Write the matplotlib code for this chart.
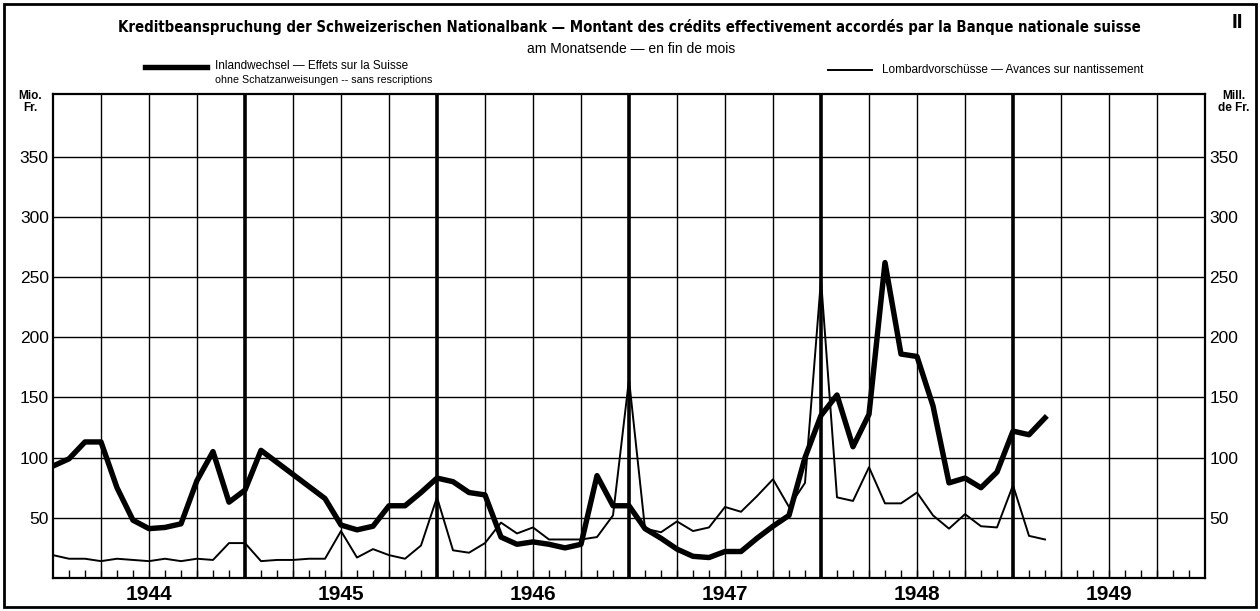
import matplotlib
matplotlib.use('Agg')
import matplotlib.pyplot as plt
from matplotlib import font_manager
from matplotlib.patches import Rectangle
from matplotlib.lines import Line2D

# ---------------- data ----------------
# month-end index: 0 = end Dec 1943, 12 = end Dec 1944, ...
months = list(range(63))
inland = [93, 99, 113, 113, 75, 48, 41, 42, 45, 81, 105, 63, 73,
          106, 96, 86, 76, 66, 44, 40, 43, 60, 60, 71, 83,
          80, 71, 69, 34, 28, 30, 28, 25, 28, 85, 60, 60,
          41, 33, 24, 18, 17, 22, 22, 33, 43, 52, 100, 135,
          152, 109, 136, 262, 186, 184, 143, 79, 83, 75, 88, 122,
          119, 133]
lombard = [19, 16, 16, 14, 16, 15, 14, 16, 14, 16, 15, 29, 29,
           14, 15, 15, 16, 16, 39, 17, 24, 19, 16, 27, 67,
           23, 21, 29, 46, 37, 42, 32, 32, 32, 34, 52, 165,
           41, 38, 47, 39, 42, 59, 55, 68, 82, 59, 79, 248,
           67, 64, 92, 62, 62, 71, 52, 41, 53, 43, 42, 77,
           35, 32]
years = ['1944', '1945', '1946', '1947', '1948', '1949']
yticks = [50, 100, 150, 200, 250, 300, 350]

title = ("Kreditbeanspruchung der Schweizerischen Nationalbank \u2014 "
         "Montant des cr\u00e9dits effectivement accord\u00e9s par la Banque nationale suisse")
subtitle = "am Monatsende \u2014 en fin de mois"
leg1 = "Inlandwechsel \u2014 Effets sur la Suisse"
leg1b = "ohne Schatzanweisungen -- sans rescriptions"
leg2 = "Lombardvorsch\u00fcsse \u2014 Avances sur nantissement"

# ---------------- fonts ----------------
names = {f.name for f in font_manager.fontManager.ttflist}
body = 'Liberation Sans' if 'Liberation Sans' in names else 'DejaVu Sans'
title_kw = dict(family=body, weight='bold')
if 'Liberation Sans Narrow' in names:
    title_kw = dict(family='Liberation Sans Narrow', weight='bold')
else:
    cond = [f for f in font_manager.fontManager.ttflist
            if f.name == 'DejaVu Sans' and 'condensed' in str(f.stretch)]
    if cond:
        title_kw = dict(family='DejaVu Sans', weight='bold', stretch=cond[0].stretch)

W, H = 1260, 611
fig = plt.figure(figsize=(W / 100, H / 100), dpi=100)
fig.patch.set_facecolor('white')

L, R, T, B = 53, 1205, 94, 578
ax = fig.add_axes([L / W, 1 - B / H, (R - L) / W, (B - T) / H])
ax.set_xlim(0, 72)
ax.set_ylim(0, 402)

for v in yticks:
    ax.axhline(v, color='k', lw=1.0, zorder=1)
for m in range(3, 72, 3):
    ax.axvline(m, color='k', lw=2.6 if m % 12 == 0 else 1.0, zorder=1)

ax.plot(months, lombard, color='k', lw=1.4, zorder=3)
ax.plot(months, inland, color='k', lw=3.9, zorder=4)

for s in ax.spines.values():
    s.set_linewidth(1.6)

ax.set_xticks(range(1, 72))
ax.tick_params(axis='x', direction='in', length=6, width=1.0, labelbottom=False)
ax.set_yticks(yticks)
ax.set_yticklabels([str(v) for v in yticks])
ax.tick_params(axis='y', length=0, pad=3, labelleft=True, labelright=True,
               labelsize=12.5)
for lab in ax.get_yticklabels():
    lab.set_family(body)

def px(x, y):
    return x / W, 1 - y / H

# year labels
for i, yr in enumerate(years):
    xp = L + (6 + 12 * i) * (R - L) / 72
    fig.text(*px(xp, 594), yr, ha='center', va='center', fontsize=15,
             family=body, weight='bold')

# unit labels
fig.text(*px(30, 102), "Mio.\nFr.", ha='center', va='center', fontsize=8.5,
         family=body, weight='bold', linespacing=0.95)
fig.text(*px(1234, 102), "Mill.\nde Fr.", ha='center', va='center', fontsize=8.5,
         family=body, weight='bold', linespacing=0.95)

# titles
t_title = fig.text(*px(118, 27), title, ha='left', va='center', fontsize=14, **title_kw)
t_sub = fig.text(*px(527, 49), subtitle, ha='left', va='center', fontsize=9, family=body)
t_l1 = fig.text(*px(215, 66), leg1, ha='left', va='center', fontsize=9.5, family=body)
t_l1b = fig.text(*px(215, 80), leg1b, ha='left', va='center', fontsize=6.5, family=body)
t_l2 = fig.text(*px(882, 70), leg2, ha='left', va='center', fontsize=9.5, family=body)
fig.text(*px(1237, 23), "II", ha='center', va='center', fontsize=15,
         family=body, weight='bold')

fig.canvas.draw()
r = fig.canvas.get_renderer()
for t, wpx in [(t_title, 1025), (t_sub, 208), (t_l2, 262), (t_l1b, 215)]:
    w = t.get_window_extent(r).width
    t.set_fontsize(t.get_fontsize() * wpx / w)
t_l1.set_fontsize(t_l2.get_fontsize())

# legend lines
fig.add_artist(Line2D([145 / W, 207 / W], [1 - 67 / H, 1 - 67 / H], color='k', lw=3.9))
fig.add_artist(Line2D([828 / W, 872 / W], [1 - 70 / H, 1 - 70 / H], color='k', lw=1.4))

# outer frame
fig.add_artist(Rectangle((4 / W, 4 / H), 1252 / W, 603 / H, fill=False,
                         edgecolor='k', lw=2.0, transform=fig.transFigure))

fig.savefig('out.png', dpi=100)
